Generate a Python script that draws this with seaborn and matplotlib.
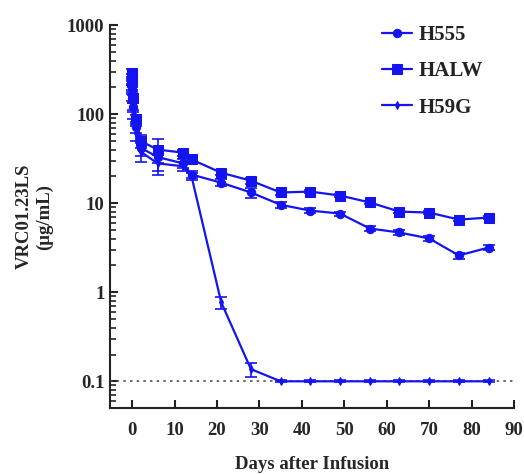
import numpy as np
import pandas as pd
import matplotlib
matplotlib.use("Agg")
import matplotlib.pyplot as plt
import seaborn as sns
from matplotlib.ticker import LogLocator, FixedLocator, NullFormatter

# Sampling days
days = [0, 0.04, 0.25, 1, 2, 6, 12, 14, 21, 28, 35, 42, 49, 56, 63, 70, 77, 84]

# VRC01.23LS concentrations (ug/mL) per animal
h555 = [250, 190, 120, 72, 42, 33, 28, 21, 17.0, 13.2, 9.6, 8.26, 7.65, 5.2, 4.69, 4.02, 2.59, 3.18]
halw = [290, 230, 150, 88, 50, 40, 37, 31, 22.0, 17.9, 13.2, 13.5, 12.2, 10.2, 8.05, 7.85, 6.55, 6.9]
h59g = [210, 160, 100, 62, 38, 28, 26, 20, 0.77, 0.137, 0.1, 0.1, 0.1, 0.1, 0.1, 0.1, 0.1, 0.1]

# Standard errors
h555_err = [30, 20, 15, 10, 8, 10, 3, 2, 1.5, 1.8, 0.8, 0.5, 0.4, 0.3, 0.3, 0.3, 0.2, 0.2]
halw_err = [30, 20, 15, 10, 8, 12, 3, 2, 1.5, 1.5, 0.8, 0.6, 0.5, 0.4, 0.3, 0.3, 0.3, 0.3]
h59g_err = [25, 18, 12, 12, 9, 7, 3, 2, 0.12, 0.025, 0.003, 0.003, 0.003, 0.003, 0.003, 0.003, 0.003, 0.003]

series = ["H555", "HALW", "H59G"]
markers = {"H555": "o", "HALW": "s", "H59G": "d"}
sizes = {"H555": 6, "HALW": 7, "H59G": 4}
lod = 0.1

df = pd.concat([
    pd.DataFrame({"day": days, "conc": v, "err": e, "animal": s})
    for s, v, e in zip(series, [h555, halw, h59g], [h555_err, halw_err, h59g_err])
])

sns.set_style("ticks")
plt.rcParams["font.family"] = ["Liberation Serif", "DejaVu Serif"]
plt.rcParams["font.weight"] = "bold"

blue = "#1414f0"
fig = plt.figure(figsize=(5.24, 4.74), dpi=100)
ax = fig.add_axes([0.21, 0.139, 0.771, 0.808])

ax.axhline(lod, color="#555555", lw=1.2, ls=(0, (1.5, 2.5)), zorder=1)

for s in series:
    d = df[df.animal == s]
    ax.errorbar(d["day"], d["conc"], yerr=d["err"], fmt="none", ecolor=blue,
                elinewidth=1.2, capsize=4, capthick=1.2, zorder=2)
    sns.lineplot(data=d, x="day", y="conc", ax=ax, color=blue, marker=markers[s],
                 markersize=sizes[s], markeredgecolor=blue, lw=1.6, label=s, zorder=3)

ax.set_yscale("log")
ax.set_ylim(0.05, 1000)
ax.set_xlim(-5.2, 90)
ax.yaxis.set_major_locator(FixedLocator([0.1, 1, 10, 100, 1000]))
ax.set_yticklabels(["0.1", "1", "10", "100", "1000"])
ax.yaxis.set_minor_locator(LogLocator(base=10, subs=np.arange(2, 10)))
ax.yaxis.set_minor_formatter(NullFormatter())
ax.set_xticks(np.arange(0, 91, 10))

for sp in ["top", "right"]:
    ax.spines[sp].set_visible(False)
for sp in ["left", "bottom"]:
    ax.spines[sp].set_linewidth(1.5)
    ax.spines[sp].set_color("#222222")

ax.tick_params(axis="both", which="major", direction="in", length=6, width=1.5,
               labelsize=13.5, color="#222222")
ax.tick_params(axis="x", which="major", pad=10)
ax.tick_params(axis="y", which="major", pad=4)
ax.tick_params(axis="y", which="minor", direction="in", length=4, width=1.2, color="#222222")
for lab in ax.get_xticklabels() + ax.get_yticklabels():
    lab.set_fontweight("bold")

ax.set_xlabel("Days after Infusion", fontsize=13.5, fontweight="bold", labelpad=12)
ax.set_ylabel("VRC01.23LS\n(\u03bcg/mL)", fontsize=13.5, fontweight="bold", labelpad=10)

leg = ax.legend(loc="upper left", frameon=False, fontsize=15, handlelength=1.45,
                handletextpad=0.3, bbox_to_anchor=(0.673, 1.0), borderaxespad=0,
                borderpad=0, labelspacing=0.78)
for t in leg.get_texts():
    t.set_fontweight("bold")
    t.set_color("#222222")

fig.savefig("out.png", dpi=100)
